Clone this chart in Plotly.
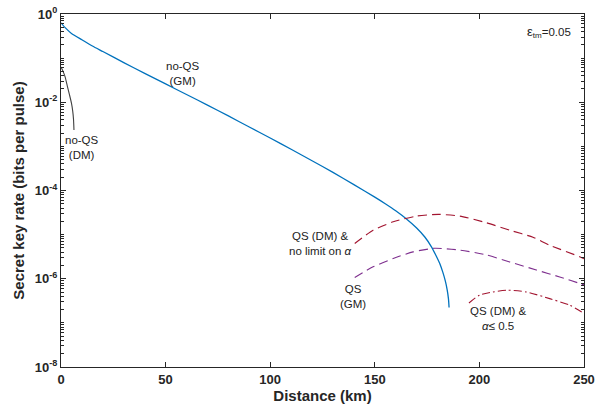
import plotly.graph_objects as go

# no-QS (GM)
gm_dist = [0, 2, 5, 10, 15, 20, 30, 40, 50, 60, 70, 80, 90, 100, 110, 120, 130, 140,
           150, 155, 160, 165, 170, 174, 177, 179, 181, 182.5, 183.7, 184.6, 185.2, 185.5]
gm_rate = [0.631, 0.490, 0.363, 0.260, 0.188, 0.141, 0.0794, 0.0452, 0.0260, 0.0150,
           8.61e-3, 4.90e-3, 2.75e-3, 1.55e-3, 8.61e-4, 4.73e-4, 2.57e-4, 1.36e-4,
           7.08e-5, 5.01e-5, 3.47e-5, 2.29e-5, 1.41e-5, 8.71e-6, 5.37e-6, 3.55e-6,
           2.24e-6, 1.41e-6, 8.91e-7, 5.62e-7, 3.55e-7, 2.24e-7]

# no-QS (DM)
dm_dist = [0, 1, 2, 3, 4, 5, 5.6, 6.0, 6.2]
dm_rate = [0.0631, 0.0501, 0.0372, 0.0234, 0.0151, 9.55e-3, 6.31e-3, 3.98e-3, 2.34e-3]

# QS (DM) & no limit on alpha
qsdm_dist = [140.4, 149.2, 158.8, 169.9, 180.3, 190.6, 203.3, 214.5, 225.6, 233.6, 247.9, 250]
qsdm_rate = [6.31e-6, 1.26e-5, 1.95e-5, 2.63e-5, 2.88e-5, 2.63e-5, 1.86e-5, 1.26e-5,
             8.71e-6, 5.75e-6, 3.16e-6, 2.82e-6]

# QS (GM)
qsgm_dist = [140.4, 149.2, 158.8, 168.3, 178.6, 190.6, 203.3, 214.5, 227.2, 238.4, 248.8, 250]
qsgm_rate = [1.07e-6, 1.86e-6, 2.88e-6, 4.07e-6, 4.90e-6, 4.47e-6, 3.47e-6, 2.40e-6,
             1.58e-6, 1.10e-6, 7.59e-7, 7.24e-7]

# QS (DM) & alpha <= 0.5
qsdm5_dist = [195.0, 200.1, 206.5, 213.7, 222.5, 233.6, 243.2, 249.5]
qsdm5_rate = [2.82e-7, 4.27e-7, 5.01e-7, 5.50e-7, 5.01e-7, 3.55e-7, 2.51e-7, 1.70e-7]

x_ticks = [0, 50, 100, 150, 200, 250]
y_tickvals = [1, 1e-2, 1e-4, 1e-6, 1e-8]
y_ticktext = ["10<sup>0</sup>", "10<sup>-2</sup>", "10<sup>-4</sup>", "10<sup>-6</sup>", "10<sup>-8</sup>"]

FONT = "Liberation Sans, Arial, sans-serif"

fig = go.Figure()
fig.add_trace(go.Scatter(x=gm_dist, y=gm_rate, mode="lines",
                         line=dict(color="#0072BD", width=1.3, shape="spline", smoothing=0.6)))
fig.add_trace(go.Scatter(x=dm_dist, y=dm_rate, mode="lines",
                         line=dict(color="#404040", width=1.1, shape="spline", smoothing=0.6)))
fig.add_trace(go.Scatter(x=qsdm_dist, y=qsdm_rate, mode="lines",
                         line=dict(color="#A2142F", width=1.1, dash="9px,5px",
                                   shape="spline", smoothing=0.6)))
fig.add_trace(go.Scatter(x=qsgm_dist, y=qsgm_rate, mode="lines",
                         line=dict(color="#7E2F8E", width=1.1, dash="9px,5px",
                                   shape="spline", smoothing=0.6)))
fig.add_trace(go.Scatter(x=qsdm5_dist, y=qsdm5_rate, mode="lines",
                         line=dict(color="#A2142F", width=1.1, dash="8px,3px,2px,3px",
                                   shape="spline", smoothing=0.6)))

ann_font = dict(family=FONT, size=11.5, color="#222")
annotations = [
    (233.1, -0.41, "<span style='font-size:13px'>ε</span><sub>tm</sub>=0.05"),
    (58.2, -1.35, "no-QS<br>(GM)"),
    (9.9, -3.03, "no-QS<br>(DM)"),
    (124.1, -5.19, "QS (DM) &<br>no limit on <i>α</i>"),
    (139.4, -6.41, "QS<br>(GM)"),
    (209.2, -6.89, "QS (DM) &<br><i>α</i>≤ 0.5"),
]
for ax, ay, txt in annotations:
    fig.add_annotation(x=ax, y=ay, text=txt, showarrow=False, font=ann_font,
                       align="center", xanchor="center", yanchor="middle")

axis_common = dict(showline=True, linecolor="#262626", linewidth=1, mirror="ticks",
                   ticks="inside", ticklen=5, tickcolor="#262626", showgrid=False,
                   zeroline=False, automargin=False,
                   tickfont=dict(family=FONT, size=13, color="#262626", weight="bold"))

fig.update_xaxes(range=[0, 250], tickvals=x_ticks, **axis_common,
                 title=dict(text="<b>Distance (km)</b>", standoff=4,
                            font=dict(family=FONT, size=15, color="#262626")))
fig.update_yaxes(type="log", range=[-8, 0], tickvals=y_tickvals, ticktext=y_ticktext,
                 minor=dict(ticks="inside", ticklen=3, tickcolor="#262626", dtick="D1",
                            showgrid=False),
                 **axis_common,
                 title=dict(text="<b>Secret key rate (bits per pulse)</b>", standoff=6,
                            font=dict(family=FONT, size=15, color="#262626")))

fig.update_layout(width=596, height=410, showlegend=False,
                  plot_bgcolor="white", paper_bgcolor="white",
                  margin=dict(l=61, r=12, t=14, b=43))
fig.write_html("out.html", config={"displayModeBar": False},
               post_script="document.body.style.margin='0';document.body.style.overflow='hidden';")
